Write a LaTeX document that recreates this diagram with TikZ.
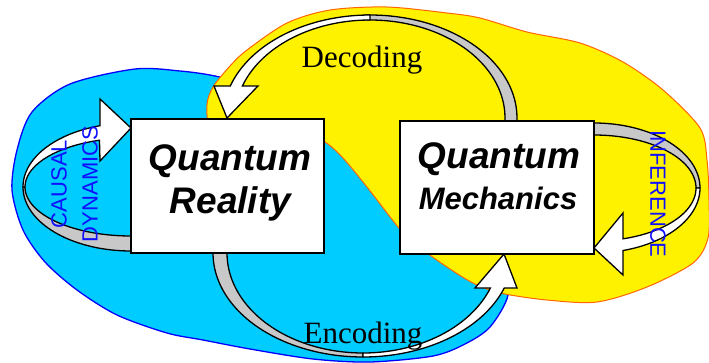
\documentclass[tikz,border=0pt]{standalone}
\usepackage{fontspec}
\setmainfont{Liberation Serif}
\newfontfamily\arialf{Liberation Sans}
\definecolor{skyc}{HTML}{00CCFF}
\definecolor{orangeb}{HTML}{FF6600}
\definecolor{bandgrey}{HTML}{C8C8C8}
\definecolor{txtblue}{HTML}{1010FF}
\begin{document}
\begin{tikzpicture}[x=1pt,y=-1pt,
  blueblob/.style={fill=skyc, draw=blue, line width=1.3pt},
  yellowblob/.style={fill=yellow, draw=orangeb, line width=1pt},
  greyband/.style={fill=bandgrey, draw=black, line width=1.3pt, line join=round},
  whiteband/.style={fill=white, draw=black, line width=1.3pt, line join=miter},
  qbox/.style={draw=black, fill=white, line width=1.8pt, inner sep=0pt},
  qtext/.style={font=\arialf\bfseries\itshape\fontsize{37pt}{40pt}\selectfont, anchor=base, inner sep=0pt},
  seriftext/.style={font=\fontsize{31pt}{34pt}\selectfont, anchor=base, inner sep=0pt},
  captext/.style={font=\arialf\fontsize{22pt}{31pt}\selectfont, text=txtblue, inner sep=0pt, align=center}
]
\useasboundingbox (0,0) rectangle (709,362);

% blue region
\draw[blueblob] plot[smooth cycle] coordinates {(12,190) (17,150) (32,112) (70,84) (135,69) (180,71) (215,76) (260,88) (350,125) (450,200) (500,265) (508,295) (490,327) (465,344) (433,356) (370,362) (313,359) (250,349) (203,340) (167,333) (117,315) (77,290) (45,262) (23,230)};

% yellow region
\draw[yellowblob] plot[smooth cycle] coordinates {(212,128) (207,105) (213,87) (230,66) (247,50) (287,23) (330,10) (387,7) (447,13) (480,18) (527,32) (580,43) (623,62) (663,90) (700,128) (707,160) (709,200) (708,238) (693,263) (647,287) (597,302) (547,300) (500,293) (473,283) (447,267) (427,253) (412,242) (398,227) (367,187) (343,158) (325,142) (300,130) (250,130)};

% Decoding arrow (top)
\filldraw[greyband] plot[domain=268:365,samples=50] ({370+147*cos(\x)},{118+103*sin(\x)})
  -- plot[domain=365:268,samples=50] ({370+135*cos(\x)},{118+98*sin(\x)}) -- cycle;
\filldraw[whiteband] (214,86) -- (227,118) -- (258,86)
  -- plot[domain=199.1:270,samples=50] ({370+135*cos(\x)},{118+98*sin(\x)})
  -- plot[domain=270:198.1,samples=50] ({370+147*cos(\x)},{118+103*sin(\x)}) -- cycle;

% Encoding arrow (bottom)
\filldraw[greyband] plot[domain=182:90,samples=50] ({363+150*cos(\x)},{253+104*sin(\x)})
  -- plot[domain=90:182,samples=50] ({363+136*cos(\x)},{253+100*sin(\x)}) -- cycle;
\filldraw[whiteband] (475,288) -- (504,254) -- (517,288)
  -- plot[domain=19.7:90,samples=50] ({363+150*cos(\x)},{253+104*sin(\x)})
  -- plot[domain=90:20.5,samples=50] ({363+136*cos(\x)},{253+100*sin(\x)}) -- cycle;

% Inference arrow (right)
\filldraw[greyband] plot[domain=265:360,samples=50] ({594+106*cos(\x)},{188+65*sin(\x)})
  -- plot[domain=360:265,samples=50] ({594+102*cos(\x)},{188+53*sin(\x)}) -- cycle;
\filldraw[whiteband] (623,213) -- (594,248) -- (623,275)
  -- plot[domain=74.1:0,samples=50] ({594+106*cos(\x)},{188+65*sin(\x)})
  -- plot[domain=0:73.5,samples=50] ({594+102*cos(\x)},{188+53*sin(\x)}) -- cycle;

% Causal dynamics arrow (left)
\filldraw[greyband] plot[domain=180:87,samples=50] ({131+108*cos(\x)},{187+64*sin(\x)})
  -- plot[domain=87:180,samples=50] ({131+106*cos(\x)},{187+49*sin(\x)}) -- cycle;
\filldraw[whiteband] (100,99) -- (131,128) -- (100,161)
  -- plot[domain=252.7:180,samples=50] ({131+106*cos(\x)},{187+49*sin(\x)})
  -- plot[domain=180:253.3,samples=50] ({131+108*cos(\x)},{187+64*sin(\x)}) -- cycle;

% boxes
\node[qbox, minimum width=193pt, minimum height=134pt] (qr) at (227.5,186) {};
\node[qbox, minimum width=194pt, minimum height=133pt] (qm) at (497,187.5) {};

% texts
\node[qtext] (qr1) at (230,170) {Quantum};
\node[qtext] (qr2) at (230.5,213) {Reality};
\node[qtext] (qm1) at (499,168) {Quantum};
\node[qtext, font=\arialf\bfseries\itshape\fontsize{31pt}{34pt}\selectfont] (qm2) at (498,209) {Mechanics};
\node[seriftext] (dec) at (362,67) {Decoding};
\node[seriftext] (enc) at (363,343) {Encoding};
\node[captext, rotate=90] (causal) at (74.5,184) {CAUSAL\\DYNAMICS};
\node[captext, rotate=-90] (inf) at (658,194) {INFERENCE};
\end{tikzpicture}
\end{document}
